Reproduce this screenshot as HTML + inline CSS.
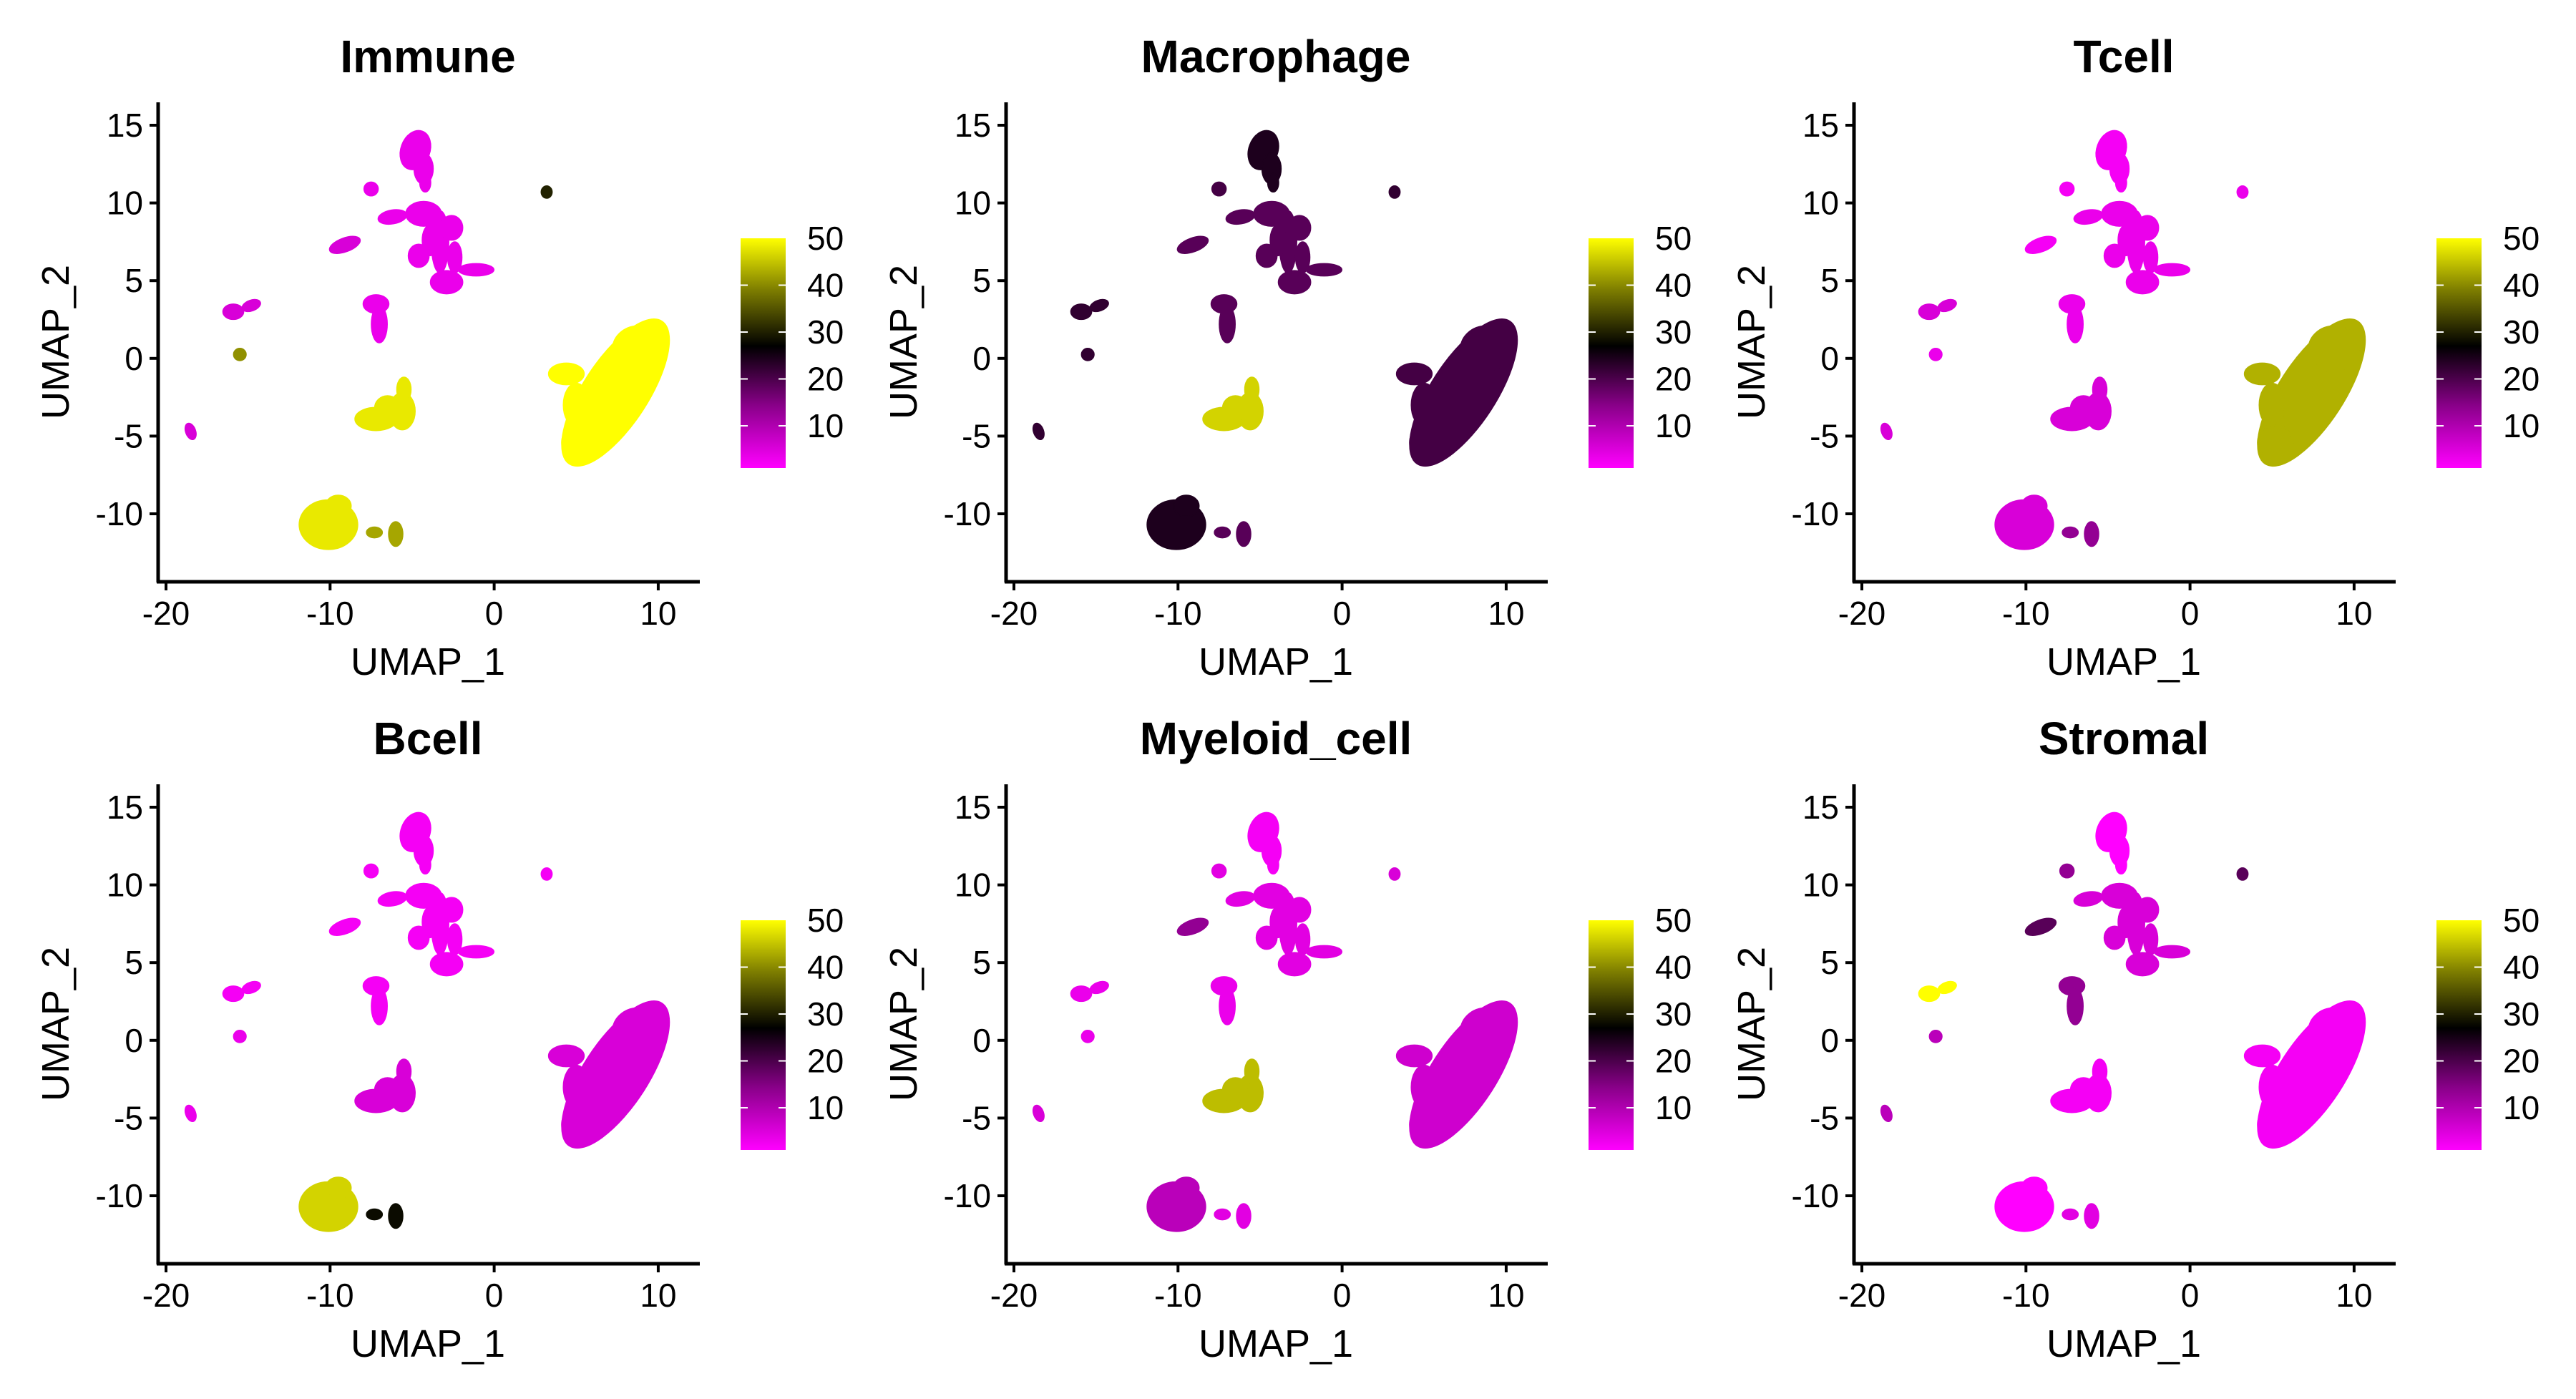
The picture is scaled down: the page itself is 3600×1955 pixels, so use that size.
<!DOCTYPE html>
<html><head><meta charset="utf-8"><style>
html,body{margin:0;padding:0;background:#fff;}
svg text{font-family:"Liberation Sans",Arial,sans-serif;}
</style></head><body>
<svg id="fig" xmlns="http://www.w3.org/2000/svg" width="3600" height="1950" viewBox="0 0 3600 1950">
<defs>
<linearGradient id="cg" x1="0" y1="1" x2="0" y2="0">
<stop offset="0" stop-color="#ff00ff"/><stop offset="0.27" stop-color="#8a008a"/><stop offset="0.53" stop-color="#000000"/><stop offset="0.78" stop-color="#808000"/><stop offset="1" stop-color="#ffff00"/>
</linearGradient>
</defs>
</svg>
<script>
const panelTitles = ["Immune","Macrophage","Tcell","Bcell","Myeloid_cell","Stromal"];
const xTicks = [-20,-10,0,10];
const yTicks = [-10,-5,0,5,10,15];
const cbTicks = [10,20,30,40,50];
// cluster blobs: [cluster, x, y, rx, ry, angle]
const clusterIds = ["A","B","C","D","E","F","G","H","I","J","K","L","M"];
const blobs = [
["A",-4.8,13.4,0.7,1.1,-20],["A",-4.3,12.2,0.4,0.8,0],["A",-4.2,11.3,0.15,0.4,0],
["B",-4.3,9.3,0.9,0.6,0],["B",-6.2,9.1,0.7,0.25,10],["B",-3.3,7.5,0.35,1.8,0],["B",-2.6,8.4,0.5,0.6,0],
["B",-4.6,6.6,0.45,0.55,0],["B",-3.9,7.6,0.3,0.8,0],["B",-2.9,4.9,0.8,0.55,0],["B",-1.1,5.7,0.9,0.2,0],["B",-2.4,6.5,0.25,0.8,0],
["C",-7.5,10.9,0.25,0.25,0],
["D",-9.1,7.3,0.8,0.25,20],
["E",-7.2,3.5,0.6,0.4,0],["E",-7.0,2.2,0.3,1.0,0],
["F",-15.9,3.0,0.45,0.3,0],["F",-14.8,3.4,0.4,0.15,20],
["G",-15.5,0.25,0.2,0.2,0],
["H",-18.5,-4.7,0.12,0.35,20],
["I",3.2,10.7,0.15,0.2,0],
["J",-7.2,-3.9,1.1,0.55,0],["J",-5.6,-3.4,0.6,1.0,0],["J",-5.5,-2.0,0.25,0.6,0],["J",-6.5,-3.2,0.6,0.6,0],
["K",-10.1,-10.7,1.6,1.4,0],["K",-9.5,-9.5,0.6,0.5,0],
["L",-6.0,-11.3,0.25,0.6,0],["L",-7.3,-11.2,0.3,0.15,0],
["M",7.4,-2.2,5.0,1.9,57],["M",4.4,-1.0,0.9,0.5,0],["M",5.2,-5.4,0.9,0.9,0],["M",8.8,0.6,1.4,1.3,0],["M",5.0,-3.0,0.6,1.2,0]
];
// expression value per cluster (A..M) per panel
const immuneVals     = [3,3,3,5,3,5,40,5,30,48,48,42,50];
const macrophageVals = [24,18,20,18,18,22,22,22,22,46,24,18,20];
const tcellVals      = [2,3,2,2,3,5,3,5,3,5,5,12,43];
const bcellVals      = [2,2,2,2,2,2,3,3,2,5,46,28,5];
const myeloidVals    = [2,4,4,12,3,3,3,5,5,44,8,4,6];
const stromalVals    = [1,5,12,18,12,50,8,8,18,2,1,4,2];
const panelVals = [immuneVals,macrophageVals,tcellVals,bcellVals,myeloidVals,stromalVals];

const NS="http://www.w3.org/2000/svg";
const svg=document.getElementById('fig');
function mk(tag,attrs,parent){const e=document.createElementNS(NS,tag);for(const k in attrs)e.setAttribute(k,attrs[k]);(parent||svg).appendChild(e);return e;}
function lerp(a,b,t){return Math.round(a+(b-a)*t);}
function colorFor(v){
  const t=Math.max(0,Math.min(1,(v-1)/49));
  const s=0.53;
  if(t<s){const u=t/s;return `rgb(${lerp(255,0,u)},0,${lerp(255,0,u)})`;}
  const u=(t-s)/(1-s);return `rgb(${lerp(0,255,u)},${lerp(0,255,u)},0)`;
}
const XU=22.93, YU=21.72;
panelTitles.forEach((title,p)=>{
  const ox=(p%3)*1185, oy=Math.floor(p/3)*953;
  const sx=v=>ox+232+(v+20)*XU;
  const sy=v=>oy+175+(15-v)*YU;
  const g=mk('g',{});
  
  
  const t=mk('text',{x:ox+598,y:oy+101,'text-anchor':'middle','font-size':64,'font-weight':'bold',fill:'#000'},g);
  t.textContent=title;
  
  
  const pts=mk('g',{},g);
  
  
  blobs.forEach(b=>{
    const ci=clusterIds.indexOf(b[0]);
    const c=colorFor(panelVals[p][ci]);
    const cx=sx(b[1]), cy=sy(b[2]);
    const e=mk('ellipse',{cx:cx,cy:cy,rx:b[3]*XU+4,ry:b[4]*YU+4,fill:c,stroke:c,'stroke-width':2,transform:`rotate(${-b[5]} ${cx} ${cy})`},pts);
    
    
  });
  const ya=mk('line',{x1:ox+221,y1:oy+143,x2:ox+221,y2:oy+814,stroke:'#000','stroke-width':5},g);
  
  
  const xa=mk('line',{x1:ox+219,y1:oy+813,x2:ox+978,y2:oy+813,stroke:'#000','stroke-width':5},g);
  
  
  xTicks.forEach(v=>{
    mk('line',{x1:sx(v),y1:oy+813,x2:sx(v),y2:oy+825,stroke:'#000','stroke-width':4},g);
    const l=mk('text',{x:sx(v),y:oy+873,'text-anchor':'middle','font-size':46,fill:'#000'},g);
    l.textContent=v;
    
    
  });
  yTicks.forEach(v=>{
    mk('line',{x1:ox+209,y1:sy(v),x2:ox+221,y2:sy(v),stroke:'#000','stroke-width':4},g);
    const l=mk('text',{x:ox+200,y:sy(v)+16,'text-anchor':'end','font-size':46,fill:'#000'},g);
    l.textContent=v;
    
    
  });
  const xl=mk('text',{x:ox+598,y:oy+943,'text-anchor':'middle','font-size':54,fill:'#000'},g);
  xl.textContent='UMAP_1';
  
  
  const yl=mk('text',{x:0,y:0,'text-anchor':'middle','font-size':54,fill:'#000',transform:`translate(${ox+96},${oy+478}) rotate(-90)`},g);
  yl.textContent='UMAP_2';
  
  
  const cbTop=oy+333, cbBot=oy+654, cbx=ox+1035, cbw=63;
  const cy=v=>cbTop+(50-v)*(cbBot-cbTop)/49;
  const cb=mk('rect',{x:cbx,y:cbTop,width:cbw,height:cbBot-cbTop,fill:'url(#cg)'},g);
  
  
  cbTicks.forEach(v=>{
    if(v<50){
      mk('line',{x1:cbx,y1:cy(v),x2:cbx+10,y2:cy(v),stroke:'#fff','stroke-width':2},g);
      mk('line',{x1:cbx+cbw-10,y1:cy(v),x2:cbx+cbw,y2:cy(v),stroke:'#fff','stroke-width':2},g);
    }
    const l=mk('text',{x:ox+1128,y:cy(v)+16,'font-size':46,fill:'#000'},g);
    l.textContent=v;
    
    
  });
});
</script>
</body></html>
